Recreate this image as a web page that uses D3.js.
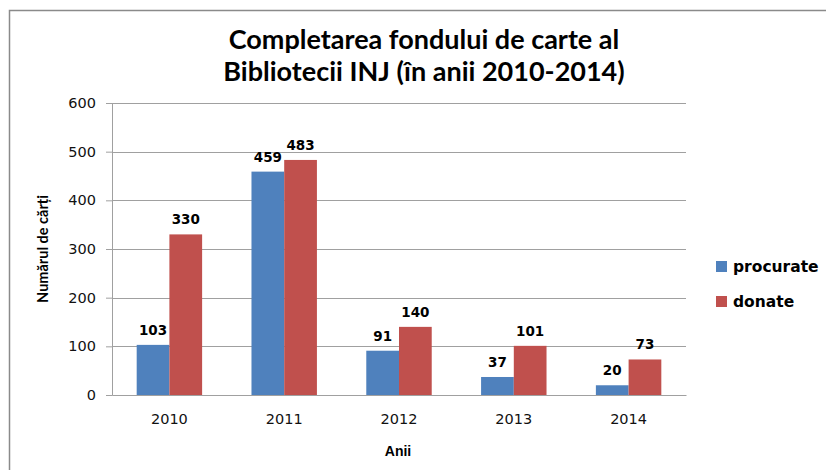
<!DOCTYPE html>
<html>
<head>
<meta charset="utf-8">
<script src="https://cdn.jsdelivr.net/npm/d3@7"></script>
<style>
  body { margin: 0; background: #fff; }
</style>
</head>
<body>
<div id="chart"></div>
<script>
const years = ["2010", "2011", "2012", "2013", "2014"];
const procurate = [103, 459, 91, 37, 20];
const donate = [330, 483, 140, 101, 73];
const seriesNames = ["procurate", "donate"];
const yTicks = [0, 100, 200, 300, 400, 500, 600];

const colors = { procurate: "#4F81BD", donate: "#C0504D" };

const width = 826, height = 470;
const margin = { top: 103, right: 140, bottom: 75, left: 112 };
const innerW = width - margin.left - margin.right;
const innerH = height - margin.top - margin.bottom;

const svg = d3.select("#chart").append("svg")
  .attr("width", width)
  .attr("height", height);

// outer frame
svg.append("rect")
  .attr("x", 9.5).attr("y", 10.5)
  .attr("width", 830).attr("height", 480)
  .attr("fill", "none")
  .attr("stroke", "#8a8a8a")
  .attr("stroke-width", 1.5);

// title
const title = svg.append("text")
  .attr("text-anchor", "middle")
  .style("font-family", "Lato, 'Open Sans', sans-serif")
  .style("font-weight", "bold")
  .style("font-size", "27px")
  .attr("fill", "#000");
title.append("tspan").attr("x", 424).attr("y", 49).text("Completarea fondului de carte al");
title.append("tspan").attr("x", 424).attr("y", 81).text("Bibliotecii INJ (în anii 2010-2014)");

const chart = svg.append("g")
  .attr("transform", `translate(${margin.left},${margin.top})`);

const x0 = d3.scaleBand().domain(years).range([0, innerW]).paddingInner(0.43).paddingOuter(0.215);
const x1 = d3.scaleBand().domain(seriesNames).range([0, x0.bandwidth()]);
const y = d3.scaleLinear().domain([0, 600]).range([innerH, 0]);

// gridlines
chart.selectAll(".grid")
  .data(yTicks.filter(d => d > 0))
  .join("line")
  .attr("class", "grid")
  .attr("x1", 0).attr("x2", innerW)
  .attr("y1", d => Math.round(y(d)) + 0.5)
  .attr("y2", d => Math.round(y(d)) + 0.5)
  .attr("stroke", "#a0a0a0")
  .attr("stroke-width", 1);

// y axis
const yAxis = chart.append("g")
  .call(d3.axisLeft(y).tickValues(yTicks).tickSize(6).tickPadding(10));
yAxis.select(".domain").attr("stroke", "#a0a0a0");
yAxis.selectAll(".tick line").attr("stroke", "#a0a0a0");
yAxis.selectAll("text")
  .style("font-family", "'DejaVu Sans', Verdana, sans-serif")
  .style("font-size", "14.5px")
  .attr("fill", "#111");

// bars
const data = years.map((yr, i) => ({ year: yr, procurate: procurate[i], donate: donate[i] }));

const groups = chart.selectAll(".group")
  .data(data)
  .join("g")
  .attr("class", "group")
  .attr("transform", d => `translate(${x0(d.year)},0)`);

groups.selectAll("rect")
  .data(d => seriesNames.map(k => ({ key: k, value: d[k] })))
  .join("rect")
  .attr("x", d => x1(d.key))
  .attr("y", d => y(d.value))
  .attr("width", x1.bandwidth())
  .attr("height", d => innerH - y(d.value))
  .attr("fill", d => colors[d.key]);

groups.selectAll(".label")
  .data(d => seriesNames.map(k => ({ key: k, value: d[k] })))
  .join("text")
  .attr("class", "label")
  .attr("x", d => x1(d.key) + x1.bandwidth() / 2)
  .attr("y", d => y(d.value) - 10)
  .attr("text-anchor", "middle")
  .style("font-family", "'DejaVu Sans', Verdana, sans-serif")
  .style("font-weight", "bold")
  .style("font-size", "13.5px")
  .text(d => d.value);

// x axis
const xAxis = chart.append("g")
  .attr("transform", `translate(0,${innerH})`)
  .call(d3.axisBottom(x0).tickSize(0).tickPadding(19));
xAxis.select(".domain").attr("stroke", "#a0a0a0");
xAxis.selectAll("text")
  .style("font-family", "'DejaVu Sans', Verdana, sans-serif")
  .style("font-size", "14.5px")
  .attr("fill", "#111");

// axis titles
svg.append("text")
  .attr("x", 398).attr("y", 456)
  .attr("text-anchor", "middle")
  .style("font-family", "'Liberation Sans', Arial, sans-serif")
  .style("font-weight", "bold")
  .style("font-size", "14px")
  .text("Anii");

svg.append("text")
  .attr("transform", "translate(48,249) rotate(-90)")
  .attr("text-anchor", "middle")
  .style("font-family", "Lato, sans-serif")
  .style("font-weight", "bold")
  .style("font-size", "14.5px")
  .text("Numărul de cărți");

// legend
const legend = svg.append("g").attr("transform", "translate(716,261)");
const items = legend.selectAll("g")
  .data(seriesNames)
  .join("g")
  .attr("transform", (d, i) => `translate(0,${i * 35})`);
items.append("rect")
  .attr("width", 11).attr("height", 11)
  .attr("fill", d => colors[d]);
items.append("text")
  .attr("x", 17).attr("y", 11)
  .style("font-family", "'DejaVu Sans', Verdana, sans-serif")
  .style("font-weight", "bold")
  .style("font-size", "15.5px")
  .text(d => d);
</script>
</body>
</html>
